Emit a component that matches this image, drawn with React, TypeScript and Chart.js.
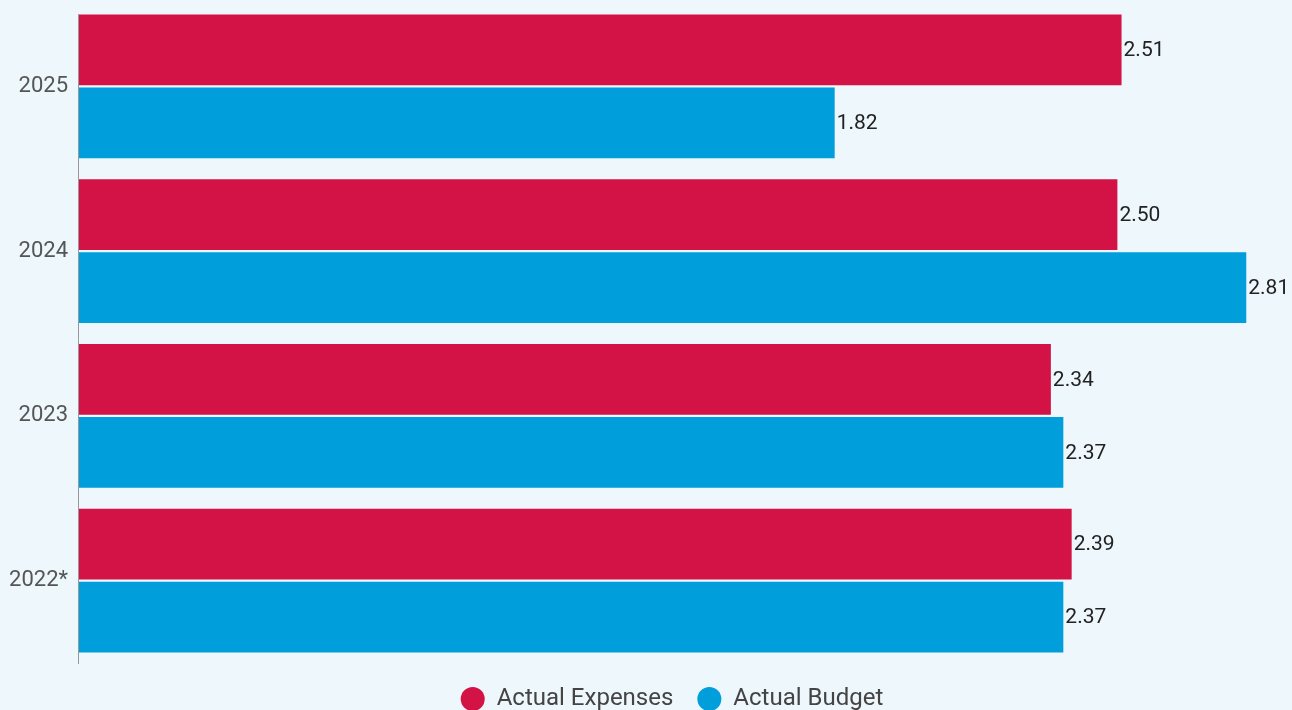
import React, { useEffect, useRef } from "react";
import { Chart, registerables } from "chart.js";

Chart.register(...registerables);

const categories = ["2025", "2024", "2023", "2022*"];
const actualExpenses = [2.51, 2.5, 2.34, 2.39];
const actualBudget = [1.82, 2.81, 2.37, 2.37];
const seriesNames = ["Actual Expenses", "Actual Budget"];

const RED = "#D31245";
const BLUE = "#009EDB";
const BG = "#EDF7FC";
const FONT = "Roboto";

const valueLabels = {
  id: "valueLabels",
  afterDatasetsDraw(chart: any) {
    const ctx = chart.ctx;
    ctx.save();
    ctx.font = `21px ${FONT}`;
    ctx.fillStyle = "#222222";
    ctx.textAlign = "left";
    ctx.textBaseline = "middle";
    chart.data.datasets.forEach((ds: any, di: number) => {
      const meta = chart.getDatasetMeta(di);
      meta.data.forEach((bar: any, i: number) => {
        const v = ds.data[i] as number;
        ctx.fillText(v.toFixed(2), bar.x + 2, bar.y + 1);
      });
    });
    ctx.restore();
  },
};

// axis line running from the top of the first bar to just below the plot
const axisLine = {
  id: "axisLine",
  afterDatasetsDraw(chart: any) {
    const meta = chart.getDatasetMeta(0);
    const first = meta.data[0];
    if (!first) return;
    const ctx = chart.ctx;
    const x = chart.chartArea.left + 0.5;
    const top = first.y - first.height / 2;
    ctx.save();
    ctx.strokeStyle = "#999999";
    ctx.lineWidth = 1;
    ctx.beginPath();
    ctx.moveTo(x, top);
    ctx.lineTo(x, chart.chartArea.bottom + 1);
    ctx.stroke();
    ctx.restore();
  },
};

const legendShift = {
  id: "legendShift",
  afterLayout(chart: any) {
    const lg = chart.legend;
    if (lg) {
      lg.left += 26;
      lg.right += 26;
    }
  },
};

export default function App() {
  const ref = useRef<HTMLCanvasElement | null>(null);
  useEffect(() => {
    if (!ref.current) return;
    const chart = new Chart(ref.current, {
      type: "bar",
      data: {
        labels: categories,
        datasets: [
          {
            label: seriesNames[0],
            data: actualExpenses,
            backgroundColor: RED,
            borderWidth: 0,
            categoryPercentage: 0.885,
            barPercentage: 0.97,
          },
          {
            label: seriesNames[1],
            data: actualBudget,
            backgroundColor: BLUE,
            borderWidth: 0,
            categoryPercentage: 0.885,
            barPercentage: 0.97,
          },
        ],
      },
      options: {
        indexAxis: "y",
        animation: false,
        responsive: true,
        maintainAspectRatio: false,
        layout: { padding: { top: 4, left: 0, right: 0, bottom: 0 } },
        scales: {
          x: {
            display: false,
            min: 0,
            max: 2.92,
          },
          y: {
            grid: { display: false, drawTicks: false },
            border: { display: false },
            ticks: {
              color: "#555555",
              font: { family: FONT, size: 22 },
              padding: 10,
            },
            afterFit(scale: any) {
              scale.width = 78;
              scale.paddingTop = 0;
              scale.paddingBottom = 0;
            },
          },
        },
        plugins: {
          legend: {
            position: "bottom",
            labels: {
              usePointStyle: true,
              pointStyle: "circle",
              pointStyleWidth: 24,
              boxHeight: 17,
              padding: 24,
              color: "#444444",
              font: { family: FONT, size: 24 },
            },
          },
          tooltip: { enabled: false },
        },
      },
      plugins: [valueLabels, axisLine, legendShift],
    });
    return () => chart.destroy();
  }, []);

  return (
    <div
      style={{
        position: "fixed",
        left: 0,
        top: 0,
        width: 1292,
        height: 710,
        overflow: "hidden",
        background: BG,
      }}
    >
      <div style={{ position: "relative", width: 1292, height: 721 }}>
        <canvas ref={ref} />
      </div>
    </div>
  );
}
